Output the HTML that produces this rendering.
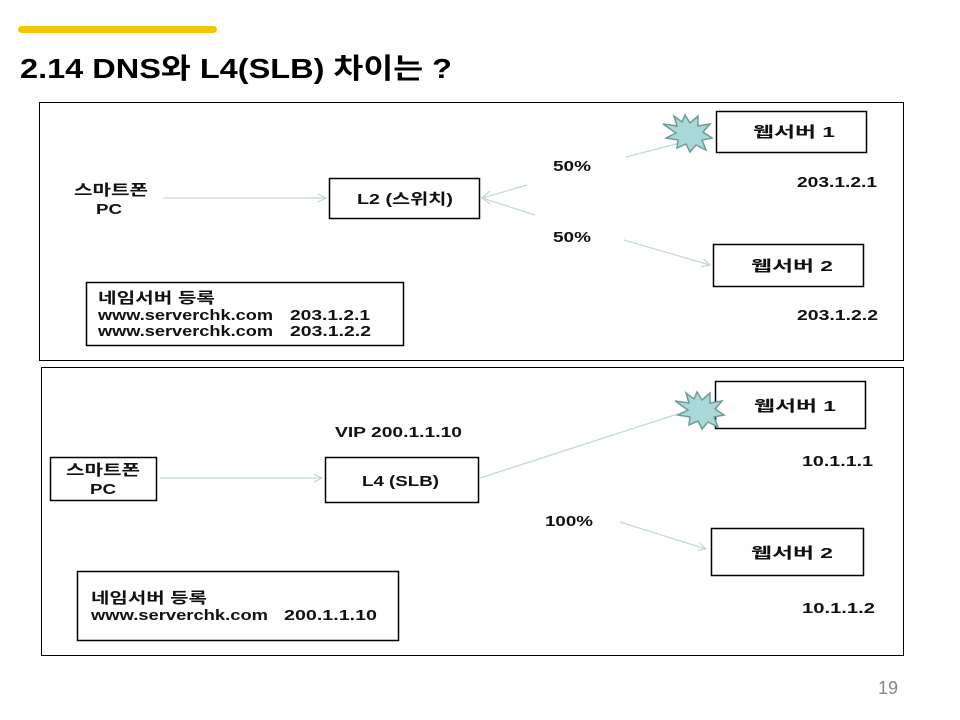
<!DOCTYPE html>
<html><head><meta charset="utf-8"><style>
body{margin:0;background:#fff;width:960px;height:720px;overflow:hidden;font-family:"Liberation Sans","Noto Sans CJK KR",sans-serif}
</style></head><body>
<svg width="960" height="720" xmlns="http://www.w3.org/2000/svg" style="position:absolute;left:0;top:0">
<defs><marker id="a" markerWidth="10" markerHeight="10" refX="9" refY="5" orient="auto" markerUnits="userSpaceOnUse"><path d="M1,1 L9,5 L1,9" fill="none" stroke="#b8d4d4" stroke-width="1"/></marker></defs>
<rect x="18" y="26" width="199" height="7" rx="3.5" fill="#f5c400"/>
<text x="20" y="78" font-size="28" font-weight="bold" fill="#000" textLength="432" lengthAdjust="spacingAndGlyphs">2.14 DNS와 L4(SLB)  차이는 ?</text>
<g fill="none" stroke="#000" stroke-width="1">
<rect x="39.5" y="102.5" width="864" height="258"/>
<rect x="41.5" y="367.5" width="862" height="288"/>
<rect x="329.5" y="178.5" width="150" height="40" stroke-width="1.5"/>
<rect x="716.5" y="111.5" width="150" height="41" stroke-width="1.5"/>
<rect x="713.5" y="244.5" width="150" height="42" stroke-width="1.5"/>
<rect x="86.5" y="282.5" width="317" height="63" stroke-width="1.5"/>
<rect x="50.5" y="457.5" width="106" height="43" stroke-width="1.5"/>
<rect x="325.5" y="457.5" width="153" height="45" stroke-width="1.5"/>
<rect x="715.5" y="381.5" width="150" height="47" stroke-width="1.5"/>
<rect x="711.5" y="528.5" width="152" height="47" stroke-width="1.5"/>
<rect x="77.5" y="571.5" width="321" height="69" stroke-width="1.5"/>
</g>
<g stroke="#c0d8d8" stroke-width="1.2" fill="none">
<line x1="163" y1="198" x2="326" y2="198" marker-end="url(#a)"/>
<path d="M527,185 L482,198 L535,215"/>
<path d="M490,191 L482,198 L490,204" />
<line x1="626" y1="157" x2="680" y2="143"/>
<line x1="624" y1="240" x2="710" y2="265" marker-end="url(#a)"/>
<line x1="160" y1="478" x2="322" y2="478" marker-end="url(#a)"/>
<line x1="480" y1="478" x2="684" y2="412"/>
<line x1="620" y1="522" x2="706" y2="549" marker-end="url(#a)"/>
</g>
<polygon points="685,115 690,123 698,116 698,126 710,124 703,132 712,138 702,140 706,150 696,145 690,152 686,144 677,148 678,140 666,138 676,133 663,124 677,126 674,116 682,122" fill="#a8d8d8" stroke="#6f9a9a" stroke-width="1.5"/>
<polygon points="697,392 702,400 710,393 710,403 722,401 715,409 724,415 714,417 718,427 708,422 702,429 698,421 689,425 690,417 678,415 688,410 675,401 689,403 686,393 694,399" fill="#a8d8d8" stroke="#6f9a9a" stroke-width="1.5"/>
<g font-size="15" font-weight="bold" fill="#111">
<text lengthAdjust="spacingAndGlyphs" x="74" y="195" textLength="74">스마트폰</text><text lengthAdjust="spacingAndGlyphs" x="96" y="214" textLength="26">PC</text>
<text lengthAdjust="spacingAndGlyphs" x="357" y="204" textLength="96">L2 (스위치)</text>
<text lengthAdjust="spacingAndGlyphs" x="553" y="171" textLength="38">50%</text><text lengthAdjust="spacingAndGlyphs" x="553" y="242" textLength="38">50%</text>
<text lengthAdjust="spacingAndGlyphs" x="753" y="137" textLength="82">웹서버 1</text><text lengthAdjust="spacingAndGlyphs" x="797" y="187" textLength="80">203.1.2.1</text>
<text lengthAdjust="spacingAndGlyphs" x="751" y="271" textLength="82">웹서버 2</text><text lengthAdjust="spacingAndGlyphs" x="797" y="320" textLength="81">203.1.2.2</text>
<text lengthAdjust="spacingAndGlyphs" x="98" y="303" textLength="117">네임서버 등록</text>
<text lengthAdjust="spacingAndGlyphs" x="98" y="320" textLength="175">www.serverchk.com</text><text lengthAdjust="spacingAndGlyphs" x="290" y="320" textLength="80">203.1.2.1</text>
<text lengthAdjust="spacingAndGlyphs" x="98" y="336" textLength="175">www.serverchk.com</text><text lengthAdjust="spacingAndGlyphs" x="290" y="336" textLength="81">203.1.2.2</text>
<text lengthAdjust="spacingAndGlyphs" x="66" y="475" textLength="74">스마트폰</text><text lengthAdjust="spacingAndGlyphs" x="90" y="494" textLength="26">PC</text>
<text lengthAdjust="spacingAndGlyphs" x="335" y="437" textLength="127">VIP 200.1.1.10</text>
<text lengthAdjust="spacingAndGlyphs" x="362" y="486" textLength="77">L4 (SLB)</text>
<text lengthAdjust="spacingAndGlyphs" x="754" y="411" textLength="82">웹서버 1</text><text lengthAdjust="spacingAndGlyphs" x="802" y="466" textLength="71">10.1.1.1</text>
<text lengthAdjust="spacingAndGlyphs" x="545" y="526" textLength="48">100%</text>
<text lengthAdjust="spacingAndGlyphs" x="751" y="558" textLength="82">웹서버 2</text><text lengthAdjust="spacingAndGlyphs" x="802" y="613" textLength="73">10.1.1.2</text>
<text lengthAdjust="spacingAndGlyphs" x="91" y="603" textLength="116">네임서버 등록</text>
<text lengthAdjust="spacingAndGlyphs" x="91" y="620" textLength="177">www.serverchk.com</text><text lengthAdjust="spacingAndGlyphs" x="284" y="620" textLength="93">200.1.1.10</text>
</g>
<text x="878" y="694" font-size="18" fill="#888">19</text>
</svg>
</body></html>
